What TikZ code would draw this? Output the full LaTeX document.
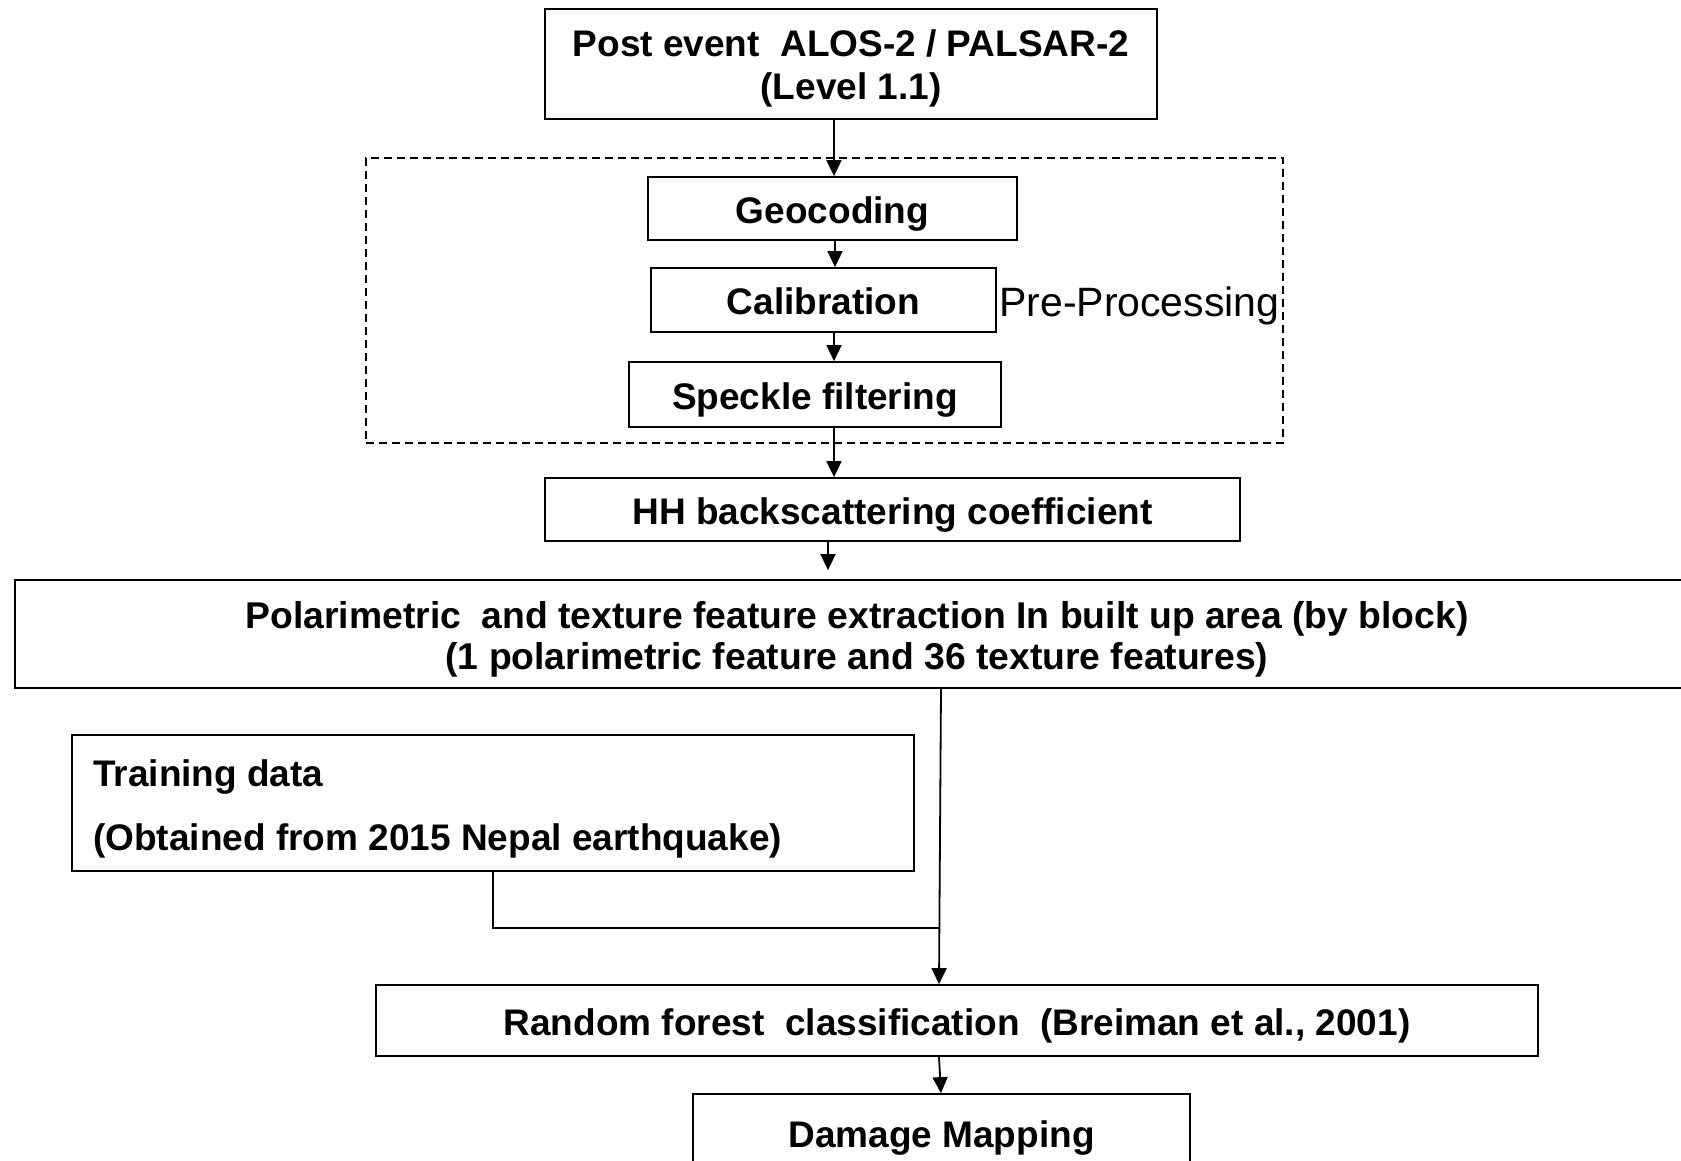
\documentclass[tikz,border=0pt]{standalone}
\usepackage{fontspec}
\setmainfont{Liberation Sans}
\usetikzlibrary{arrows.meta,calc}
\tikzset{
  box/.style={draw, line width=1.8pt, rectangle, inner sep=0pt, align=center,
    text height=37pt, text depth=8pt,
    font=\fontsize{37}{43}\selectfont\bfseries},
  arr/.style={line width=1.8pt, -{Triangle[width=15pt,length=16pt]}},
  conn/.style={line width=1.8pt},
  prebox/.style={draw, line width=1.5pt, dash pattern=on 8pt off 5pt, rectangle, inner sep=0pt},
}
\begin{document}
\begin{tikzpicture}[x=1pt,y=-1pt]
\useasboundingbox (0,0) rectangle (1681,1161);
\clip (0,0) rectangle (1681,1161);
\fill[white] (0,0) rectangle (1681,1161);
\node[box, text height=80pt, minimum width=612pt, minimum height=110pt] (top) at (851,64)
  {Post event\ \ ALOS-2 / PALSAR-2\\(Level 1.1)};
\node[prebox, minimum width=917pt, minimum height=285pt] (pre) at (824.5,300.5) {};
\node[box, minimum width=369pt, minimum height=63pt] (geo) at (832.5,208.5) {Geocoding};
\node[box, minimum width=345pt, minimum height=64pt] (cal) at (823.5,300) {Calibration};
\node[box, minimum width=372pt, minimum height=65pt] (spk) at (815,394.5) {Speckle filtering};
\node[anchor=west, inner sep=0pt, font=\fontsize{41}{47}\selectfont] (prelab) at (999,306) {Pre-Processing};
\node[box, minimum width=695pt, minimum height=63pt] (hh) at (892.5,509.5) {HH backscattering coefficient};
\node[box, text height=78pt, minimum width=1684pt, minimum height=108pt,
  font=\fontsize{37.3}{41}\selectfont\bfseries] (poly) at (857,634)
  {Polarimetric\ \ and texture feature extraction In built up area (by block)\\(1 polarimetric feature and 36 texture features)};
\node[box, minimum width=842pt, minimum height=136pt] (train) at (493,803) {};
\node[anchor=west, inner sep=0pt, align=left, font=\fontsize{37}{64}\selectfont\bfseries] (traintxt) at (93,809)
  {Training data\\(Obtained from 2015 Nepal earthquake)};
\node[box, minimum width=1162pt, minimum height=71pt] (rf) at (957,1020.5)
  {Random forest\ \ classification\ \ (Breiman et al., 2001)};
\node[box, minimum width=497pt, minimum height=78pt] (dmg) at (941.5,1133) {Damage Mapping};
\coordinate (join) at (940,928);
\draw[arr] (top.south -| 834,0) -- (geo.north -| 834,0);
\draw[arr] (geo.south -| 835,0) -- (cal.north -| 835,0);
\draw[arr] (cal.south -| 834,0) -- (spk.north -| 834,0);
\draw[arr] (spk.south -| 834,0) -- (hh.north -| 834,0);
\draw[arr] (hh.south -| 828,0) -- ($(poly.north -| 828,0)+(0,-9)$);
\draw[arr] (poly.south -| 941,0) -- (rf.north -| 939,0);
\draw[conn] (train.south -| 493,0) |- (join);
\draw[arr] (rf.south -| 939,0) -- (dmg.north -| 941,0);
\end{tikzpicture}
\end{document}
